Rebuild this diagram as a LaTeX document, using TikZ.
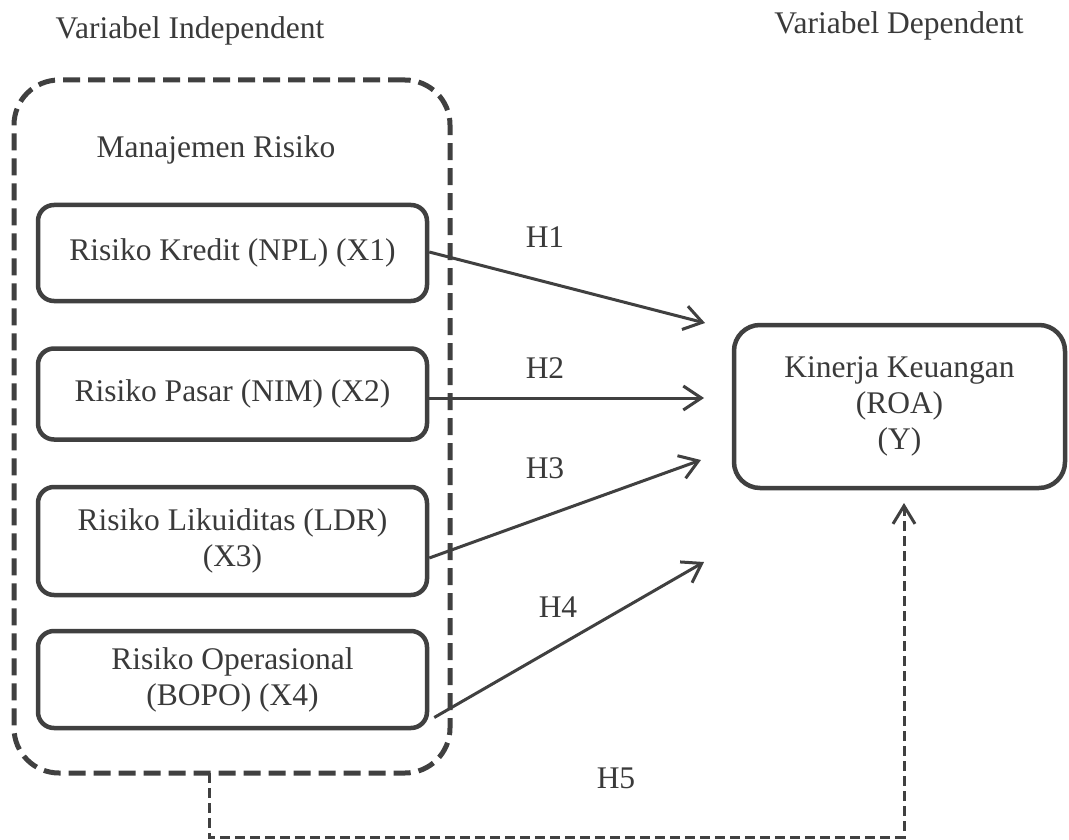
\documentclass[tikz,border=0pt]{standalone}
\usepackage{fontspec}
\setmainfont{Liberation Serif}
\usetikzlibrary{arrows.meta}
\definecolor{ink}{HTML}{404040}
\definecolor{txt}{HTML}{3A3A3A}
\begin{document}
\begin{tikzpicture}[x=1pt,y=-1pt,
  lbl/.style={font=\fontsize{31.5}{36}\selectfont, text=txt, inner sep=0pt, align=center},
  box/.style={lbl, draw=ink, line width=4.5pt, rounded corners=16pt, minimum width=389pt},
  grp/.style={draw=ink, line width=5pt, dash pattern=on 17pt off 8pt, rounded corners=45pt, minimum width=436pt, minimum height=693pt, inner sep=0pt},
  arr/.style={draw=ink, line width=3pt, -{Straight Barb[length=18pt,width=24pt,line width=3pt]}},
  dasharr/.style={draw=ink, line width=3pt, dash pattern=on 10pt off 5pt, -{Straight Barb[length=18pt,width=22pt,line width=3pt]}}]
\fill[white] (0,0) rectangle (1069,840);
\useasboundingbox (0,0) rectangle (1069,840);

\node[lbl] (vi) at (190,31) {Variabel Independent};
\node[lbl] (vd) at (899,26) {Variabel Dependent};

\node[grp] (g) at (232,426.5) {};
\node[lbl] (mr) at (216,150) {Manajemen Risiko};

\node[box, minimum height=96pt] (b1) at (232.5,253) {Risiko Kredit (NPL) (X1)};
\node[box, minimum height=91pt] (b2) at (232.5,394) {Risiko Pasar (NIM) (X2)};
\node[box, minimum height=108pt] (b3) at (232.5,541) {Risiko Likuiditas (LDR)\\(X3)};
\node[box, minimum height=97pt] (b4) at (232.5,679.5) {Risiko Operasional\\(BOPO) (X4)};

\node[lbl, draw=ink, line width=4.5pt, rounded corners=26pt, minimum width=331pt, minimum height=163pt] (y) at (899.5,406.5) {Kinerja Keuangan\\(ROA)\\(Y)};

\coordinate (t1) at (705,323);
\coordinate (t2) at (704,398);
\coordinate (t3) at (701,460);
\coordinate (t4) at (704,562);
\coordinate (h5s) at (209,773);
\coordinate (h5c) at (209,837);
\coordinate (h5t) at (904,503);

\draw[arr] ([yshift=1pt]b1.east) -- (t1);
\draw[arr] (b2.east |- t2) -- (t2);
\draw[arr] ([yshift=-17pt]b3.east) -- (t3);
\draw[arr] ([xshift=5pt,yshift=-38pt]b4.east) -- (t4);
\draw[dasharr] (h5s) -- (h5c) -| (h5t);

\node[lbl] (l1) at (545,237) {H1};
\node[lbl] (l2) at (545,368) {H2};
\node[lbl] (l3) at (545,468) {H3};
\node[lbl] (l4) at (558,607) {H4};
\node[lbl] (l5) at (616,778) {H5};
\end{tikzpicture}
\end{document}
